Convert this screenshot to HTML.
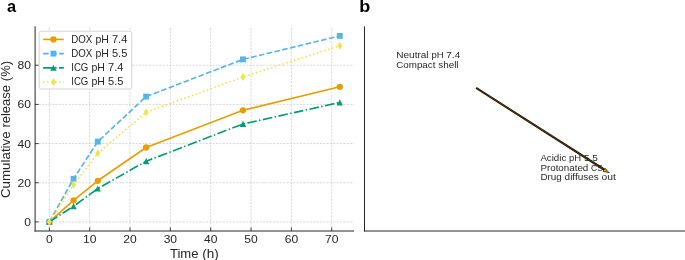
<!DOCTYPE html><html><head><meta charset="utf-8"><title>Release profile</title><style>html,body{margin:0;padding:0;background:#fff}svg{display:block;will-change:transform;opacity:0.999}text{font-family:"Liberation Sans",sans-serif}</style></head><body>
<svg width="685" height="260" viewBox="0 0 685 260">
<rect width="685" height="260" fill="#fff"/>
<line x1="49.35" y1="231.0" x2="49.35" y2="26.3" stroke="#cdcdcd" stroke-width="0.75" stroke-dasharray="2.2 1.15"/>
<line x1="89.69" y1="231.0" x2="89.69" y2="26.3" stroke="#cdcdcd" stroke-width="0.75" stroke-dasharray="2.2 1.15"/>
<line x1="130.03" y1="231.0" x2="130.03" y2="26.3" stroke="#cdcdcd" stroke-width="0.75" stroke-dasharray="2.2 1.15"/>
<line x1="170.37" y1="231.0" x2="170.37" y2="26.3" stroke="#cdcdcd" stroke-width="0.75" stroke-dasharray="2.2 1.15"/>
<line x1="210.71" y1="231.0" x2="210.71" y2="26.3" stroke="#cdcdcd" stroke-width="0.75" stroke-dasharray="2.2 1.15"/>
<line x1="251.05" y1="231.0" x2="251.05" y2="26.3" stroke="#cdcdcd" stroke-width="0.75" stroke-dasharray="2.2 1.15"/>
<line x1="291.39" y1="231.0" x2="291.39" y2="26.3" stroke="#cdcdcd" stroke-width="0.75" stroke-dasharray="2.2 1.15"/>
<line x1="331.73" y1="231.0" x2="331.73" y2="26.3" stroke="#cdcdcd" stroke-width="0.75" stroke-dasharray="2.2 1.15"/>
<line x1="35.1" y1="221.90" x2="354.0" y2="221.90" stroke="#cdcdcd" stroke-width="0.75" stroke-dasharray="2.2 1.15"/>
<line x1="35.1" y1="182.74" x2="354.0" y2="182.74" stroke="#cdcdcd" stroke-width="0.75" stroke-dasharray="2.2 1.15"/>
<line x1="35.1" y1="143.58" x2="354.0" y2="143.58" stroke="#cdcdcd" stroke-width="0.75" stroke-dasharray="2.2 1.15"/>
<line x1="35.1" y1="104.42" x2="354.0" y2="104.42" stroke="#cdcdcd" stroke-width="0.75" stroke-dasharray="2.2 1.15"/>
<line x1="35.1" y1="65.26" x2="354.0" y2="65.26" stroke="#cdcdcd" stroke-width="0.75" stroke-dasharray="2.2 1.15"/>
<path d="M49.35,221.90 L73.55,200.36 L97.76,180.78 L146.17,147.50 L242.98,110.29 L339.80,86.80" fill="none" stroke="#E69F00" stroke-width="1.65" stroke-linejoin="round"/>
<circle cx="49.35" cy="221.90" r="3.1500000000000004" fill="#E69F00"/>
<circle cx="73.55" cy="200.36" r="3.1500000000000004" fill="#E69F00"/>
<circle cx="97.76" cy="180.78" r="3.1500000000000004" fill="#E69F00"/>
<circle cx="146.17" cy="147.50" r="3.1500000000000004" fill="#E69F00"/>
<circle cx="242.98" cy="110.29" r="3.1500000000000004" fill="#E69F00"/>
<circle cx="339.80" cy="86.80" r="3.1500000000000004" fill="#E69F00"/>
<path d="M49.35,221.90 L73.55,178.82 L97.76,141.62 L146.17,96.59 L242.98,59.39 L339.80,35.89" fill="none" stroke="#56B4E9" stroke-width="1.65" stroke-dasharray="5.6 2.4" stroke-linejoin="round"/>
<rect x="46.40" y="218.95" width="5.9" height="5.9" fill="#56B4E9"/>
<rect x="70.60" y="175.87" width="5.9" height="5.9" fill="#56B4E9"/>
<rect x="94.81" y="138.67" width="5.9" height="5.9" fill="#56B4E9"/>
<rect x="143.22" y="93.64" width="5.9" height="5.9" fill="#56B4E9"/>
<rect x="240.03" y="56.44" width="5.9" height="5.9" fill="#56B4E9"/>
<rect x="336.85" y="32.94" width="5.9" height="5.9" fill="#56B4E9"/>
<path d="M49.35,221.90 L73.55,206.24 L97.76,188.61 L146.17,161.20 L242.98,124.00 L339.80,102.46" fill="none" stroke="#009E73" stroke-width="1.65" stroke-dasharray="9.6 2.4 1.5 2.4" stroke-linejoin="round"/>
<path d="M49.35,218.75 L52.50,224.85 L46.20,224.85Z" fill="#009E73"/>
<path d="M73.55,203.09 L76.70,209.19 L70.40,209.19Z" fill="#009E73"/>
<path d="M97.76,185.46 L100.91,191.56 L94.61,191.56Z" fill="#009E73"/>
<path d="M146.17,158.05 L149.32,164.15 L143.02,164.15Z" fill="#009E73"/>
<path d="M242.98,120.85 L246.13,126.95 L239.83,126.95Z" fill="#009E73"/>
<path d="M339.80,99.31 L342.95,105.41 L336.65,105.41Z" fill="#009E73"/>
<path d="M49.35,221.90 L73.55,184.70 L97.76,153.37 L146.17,112.25 L242.98,77.01 L339.80,45.68" fill="none" stroke="#F0E442" stroke-width="1.65" stroke-dasharray="1.5 2.5" stroke-linejoin="round"/>
<path d="M49.35,217.90 L51.75,221.90 L49.35,225.90 L46.95,221.90Z" fill="#F0E442"/>
<path d="M73.55,180.70 L75.95,184.70 L73.55,188.70 L71.15,184.70Z" fill="#F0E442"/>
<path d="M97.76,149.37 L100.16,153.37 L97.76,157.37 L95.36,153.37Z" fill="#F0E442"/>
<path d="M146.17,108.25 L148.57,112.25 L146.17,116.25 L143.77,112.25Z" fill="#F0E442"/>
<path d="M242.98,73.01 L245.38,77.01 L242.98,81.01 L240.58,77.01Z" fill="#F0E442"/>
<path d="M339.80,41.68 L342.20,45.68 L339.80,49.68 L337.40,45.68Z" fill="#F0E442"/>
<line x1="49.35" y1="231.0" x2="49.35" y2="227.4" stroke="#262626" stroke-width="0.85"/>
<g transform="translate(49.35,243.20)" font-size="11.24" fill="#262626"><text transform="translate(-3.37,0) scale(1.0792,1)">0</text></g>
<line x1="89.69" y1="231.0" x2="89.69" y2="227.4" stroke="#262626" stroke-width="0.85"/>
<g transform="translate(89.69,243.20)" font-size="11.24" fill="#262626"><text transform="translate(-6.74,0) scale(1.0792,1)">10</text></g>
<line x1="130.03" y1="231.0" x2="130.03" y2="227.4" stroke="#262626" stroke-width="0.85"/>
<g transform="translate(130.03,243.20)" font-size="11.24" fill="#262626"><text transform="translate(-6.74,0) scale(1.0792,1)">20</text></g>
<line x1="170.37" y1="231.0" x2="170.37" y2="227.4" stroke="#262626" stroke-width="0.85"/>
<g transform="translate(170.37,243.20)" font-size="11.24" fill="#262626"><text transform="translate(-6.74,0) scale(1.0792,1)">30</text></g>
<line x1="210.71" y1="231.0" x2="210.71" y2="227.4" stroke="#262626" stroke-width="0.85"/>
<g transform="translate(210.71,243.20)" font-size="11.24" fill="#262626"><text transform="translate(-6.74,0) scale(1.0792,1)">40</text></g>
<line x1="251.05" y1="231.0" x2="251.05" y2="227.4" stroke="#262626" stroke-width="0.85"/>
<g transform="translate(251.05,243.20)" font-size="11.24" fill="#262626"><text transform="translate(-6.74,0) scale(1.0792,1)">50</text></g>
<line x1="291.39" y1="231.0" x2="291.39" y2="227.4" stroke="#262626" stroke-width="0.85"/>
<g transform="translate(291.39,243.20)" font-size="11.24" fill="#262626"><text transform="translate(-6.74,0) scale(1.0792,1)">60</text></g>
<line x1="331.73" y1="231.0" x2="331.73" y2="227.4" stroke="#262626" stroke-width="0.85"/>
<g transform="translate(331.73,243.20)" font-size="11.24" fill="#262626"><text transform="translate(-6.74,0) scale(1.0792,1)">70</text></g>
<line x1="35.1" y1="221.90" x2="38.7" y2="221.90" stroke="#262626" stroke-width="0.85"/>
<g transform="translate(31.00,225.90)" font-size="11.24" fill="#262626"><text transform="translate(-6.74,0) scale(1.0792,1)">0</text></g>
<line x1="35.1" y1="182.74" x2="38.7" y2="182.74" stroke="#262626" stroke-width="0.85"/>
<g transform="translate(31.00,186.74)" font-size="11.24" fill="#262626"><text transform="translate(-13.49,0) scale(1.0792,1)">20</text></g>
<line x1="35.1" y1="143.58" x2="38.7" y2="143.58" stroke="#262626" stroke-width="0.85"/>
<g transform="translate(31.00,147.58)" font-size="11.24" fill="#262626"><text transform="translate(-13.49,0) scale(1.0792,1)">40</text></g>
<line x1="35.1" y1="104.42" x2="38.7" y2="104.42" stroke="#262626" stroke-width="0.85"/>
<g transform="translate(31.00,108.42)" font-size="11.24" fill="#262626"><text transform="translate(-13.49,0) scale(1.0792,1)">60</text></g>
<line x1="35.1" y1="65.26" x2="38.7" y2="65.26" stroke="#262626" stroke-width="0.85"/>
<g transform="translate(31.00,69.26)" font-size="11.24" fill="#262626"><text transform="translate(-13.49,0) scale(1.0792,1)">80</text></g>
<line x1="35.1" y1="26.3" x2="35.1" y2="231.5" stroke="#262626" stroke-width="1"/>
<line x1="34.6" y1="231.0" x2="354.0" y2="231.0" stroke="#262626" stroke-width="1"/>
<g transform="translate(194.40,257.70)" font-size="12.40" fill="#262626"><text transform="translate(-24.45,0) scale(1.0566,1)">Time</text><text transform="translate(7.90,0) scale(1.0915,1)">(h)</text></g>
<g transform="translate(10.30,129.50) rotate(-90)" font-size="12.40" fill="#262626"><text transform="translate(-68.57,0) scale(1.0765,1)">Cumulative</text><text transform="translate(1.93,0) scale(1.0489,1)">release</text><text transform="translate(48.32,0) scale(1.0497,1)">(%)</text></g>
<rect x="39.2" y="31.2" width="92.6" height="57.8" rx="2.2" fill="#fff" fill-opacity="0.88" stroke="#cfcfcf" stroke-width="0.9"/>
<line x1="43.1" y1="39.40" x2="63.8" y2="39.40" stroke="#E69F00" stroke-width="1.65"/>
<circle cx="53.45" cy="39.40" r="3.1500000000000004" fill="#E69F00"/>
<g transform="translate(71.20,42.80)" font-size="10.28" fill="#262626"><text transform="translate(0.00,0) scale(0.9483,1)">DOX</text><text transform="translate(24.21,0) scale(1.0234,1)">pH</text><text transform="translate(40.75,0) scale(1.0793,1)">7.4</text></g>
<line x1="43.1" y1="53.60" x2="63.8" y2="53.60" stroke="#56B4E9" stroke-width="1.65" stroke-dasharray="5.6 2.4"/>
<rect x="50.50" y="50.65" width="5.9" height="5.9" fill="#56B4E9"/>
<g transform="translate(71.20,57.00)" font-size="10.28" fill="#262626"><text transform="translate(0.00,0) scale(0.9483,1)">DOX</text><text transform="translate(24.21,0) scale(1.0234,1)">pH</text><text transform="translate(40.75,0) scale(1.0793,1)">5.5</text></g>
<line x1="43.1" y1="67.80" x2="63.8" y2="67.80" stroke="#009E73" stroke-width="1.65" stroke-dasharray="9.6 2.4 1.5 2.4"/>
<path d="M53.45,64.65 L56.60,70.75 L50.30,70.75Z" fill="#009E73"/>
<g transform="translate(71.20,71.20)" font-size="10.28" fill="#262626"><text transform="translate(0.00,0) scale(0.9383,1)">ICG</text><text transform="translate(20.23,0) scale(1.0234,1)">pH</text><text transform="translate(36.77,0) scale(1.0793,1)">7.4</text></g>
<line x1="43.1" y1="82.00" x2="63.8" y2="82.00" stroke="#F0E442" stroke-width="1.65" stroke-dasharray="1.5 2.5"/>
<path d="M53.45,78.00 L55.85,82.00 L53.45,86.00 L51.05,82.00Z" fill="#F0E442"/>
<g transform="translate(71.20,85.40)" font-size="10.28" fill="#262626"><text transform="translate(0.00,0) scale(0.9383,1)">ICG</text><text transform="translate(20.23,0) scale(1.0234,1)">pH</text><text transform="translate(36.77,0) scale(1.0793,1)">5.5</text></g>
<g transform="translate(6.90,12.00)" font-size="16.32" font-weight="bold" fill="#000"><text transform="translate(0.00,0) scale(1.0,1)">a</text></g>
<g transform="translate(359.20,12.00)" font-size="16.32" font-weight="bold" fill="#000"><text transform="translate(0.00,0) scale(1.1056,1)">b</text></g>
<line x1="364.5" y1="26.3" x2="364.5" y2="231.5" stroke="#262626" stroke-width="1"/>
<line x1="364" y1="231.0" x2="685" y2="231.0" stroke="#262626" stroke-width="1"/>
<g transform="translate(396.30,58.10)" font-size="9.28" fill="#262626"><text transform="translate(0.00,0) scale(1.0801,1)">Neutral</text><text transform="translate(35.08,0) scale(1.0234,1)">pH</text><text transform="translate(49.99,0) scale(1.0793,1)">7.4</text></g>
<g transform="translate(396.30,67.80)" font-size="9.28" fill="#262626"><text transform="translate(0.00,0) scale(1.0547,1)">Compact</text><text transform="translate(41.93,0) scale(1.0668,1)">shell</text></g>
<g transform="translate(540.40,161.10)" font-size="9.28" fill="#262626"><text transform="translate(0.00,0) scale(1.0456,1)">Acidic</text><text transform="translate(28.65,0) scale(1.0234,1)">pH</text><text transform="translate(43.57,0) scale(1.0793,1)">5.5</text></g>
<g transform="translate(540.40,170.70)" font-size="9.28" fill="#262626"><text transform="translate(0.00,0) scale(1.0565,1)">Protonated</text><text transform="translate(50.72,0) scale(0.9053,1)">CS</text></g>
<g transform="translate(540.40,180.30)" font-size="9.28" fill="#262626"><text transform="translate(0.00,0) scale(1.0662,1)">Drug</text><text transform="translate(24.22,0) scale(1.0712,1)">diffuses</text><text transform="translate(61.06,0) scale(1.1114,1)">out</text></g>
<line x1="476.1" y1="87.9" x2="606.5" y2="171.0" stroke="#1c1308" stroke-width="2.1"/>
<line x1="476.6" y1="88.2" x2="606" y2="170.7" stroke="#b07a10" stroke-width="0.5" stroke-opacity="0.7"/>
<path d="M609.3,172.8 L603.0,171.3 L604.9,168.3Z" fill="#E69F00" stroke="#1c1308" stroke-width="0.7" stroke-linejoin="miter"/>
</svg></body></html>
